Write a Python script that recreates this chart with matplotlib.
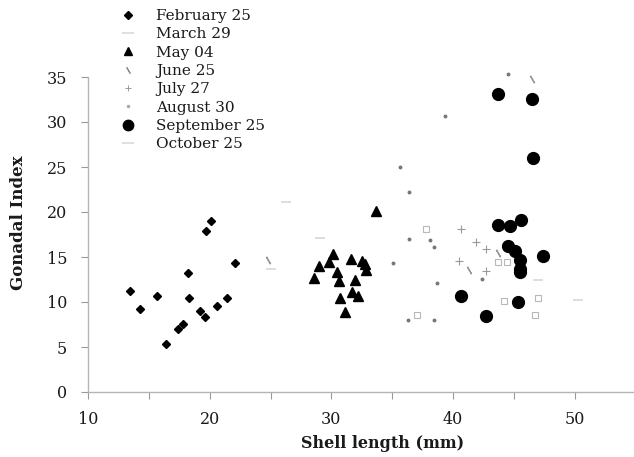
import matplotlib
matplotlib.use("Agg")
import matplotlib.pyplot as plt
from matplotlib.lines import Line2D

# ---- data ----
feb_x = [13.45, 14.3, 15.7, 16.4, 17.4, 17.8, 18.25, 18.3, 19.2, 19.6, 19.7, 20.1, 20.6, 21.4, 22.1]
feb_y = [11.2, 9.2, 10.7, 5.3, 7.0, 7.6, 13.2, 10.5, 9.0, 8.3, 17.9, 19.0, 9.6, 10.5, 14.3]

mar_x = [25.0, 26.3, 29.1, 47.0, 50.3]
mar_y = [13.7, 21.1, 17.1, 12.4, 10.2]

may_x = [33.7, 30.15, 29.8, 31.6, 32.5, 32.8, 32.85, 29.0, 28.6, 30.5, 30.6, 31.9, 31.7, 32.15, 30.7, 31.1]
may_y = [20.1, 15.3, 14.5, 14.8, 14.6, 14.2, 13.6, 14.0, 12.7, 13.3, 12.3, 12.5, 11.1, 10.7, 10.4, 8.9]

jun_x = [24.8, 41.3, 43.7, 46.5]
jun_y = [14.7, 13.6, 15.4, 34.8]

jul_x = [40.65, 41.9, 42.7, 40.5, 42.7]
jul_y = [18.1, 16.7, 15.9, 14.6, 13.4]

aug_x = [44.5, 39.3, 35.6, 36.4, 36.4, 38.1, 38.4, 35.1, 38.7, 36.3, 38.4, 42.4]
aug_y = [35.3, 30.7, 25.0, 22.2, 17.0, 16.9, 16.1, 14.3, 12.1, 8.0, 8.0, 12.6]

sep_x = [43.7, 46.5, 46.6, 43.65, 44.7, 45.6, 47.35, 44.5, 45.1, 45.5, 45.5, 45.5, 40.65, 45.3, 42.7]
sep_y = [33.1, 32.6, 26.0, 18.6, 18.5, 19.1, 15.1, 16.2, 15.7, 14.7, 13.7, 13.3, 10.7, 10.0, 8.4]

oct_x = [47.0, 46.7, 43.7, 44.4, 44.2, 37.8, 37.0]
oct_y = [10.5, 8.6, 14.4, 14.5, 10.1, 18.1, 8.6]

labels = ["February 25", "March 29", "May 04", "June 25", "July 27",
          "August 30", "September 25", "October 25"]

xticks = [10, 20, 30, 40, 50]
yticks = [0, 5, 10, 15, 20, 25, 30, 35]

# ---- figure ----
W, H = 634, 457
fig = plt.figure(figsize=(W / 100, H / 100), dpi=100)
serif = "DejaVu Serif"

x0_px, y0_px = 88, 392
ppx, ppy = 12.17, 9.0
xmax, ymax = 55, 43.5
ax = fig.add_axes([x0_px / W, (H - y0_px) / H, (xmax - 10) * ppx / W, ymax * ppy / H])
ax.set_xlim(10, xmax)
ax.set_ylim(0, ymax)

for s in ("top", "right"):
    ax.spines[s].set_visible(False)
ax.spines["left"].set_bounds(0, 35)
ax.spines["bottom"].set_bounds(10, 55)
for s in ("left", "bottom"):
    ax.spines[s].set_color("#b5b5b5")
    ax.spines[s].set_linewidth(1.0)

ax.set_xticks(xticks)
ax.set_xticks([15, 25, 35, 45], minor=True)
ax.set_yticks(yticks)
ax.tick_params(axis="both", which="both", direction="out", color="#999999", width=0.8)
ax.tick_params(axis="x", which="major", length=5, pad=9, labelsize=11.5)
ax.tick_params(axis="x", which="minor", length=5)
ax.tick_params(axis="y", length=5, pad=10, labelsize=11.5)
for lab in ax.get_xticklabels() + ax.get_yticklabels():
    lab.set_fontfamily(serif)
    lab.set_color("#1a1a1a")

ax.plot(mar_x, mar_y, linestyle="none", marker="_", ms=7, mew=1.2, color="#d8d8d8")
ax.plot(oct_x, oct_y, linestyle="none", marker="s", ms=5, mfc="none", mew=0.8, color="#b8b8b8")
ax.plot(jun_x, jun_y, linestyle="none", marker=(2, 2, 30), ms=6, mew=1.0, color="#9a9a9a")
ax.plot(jul_x, jul_y, linestyle="none", marker="+", ms=6, mew=0.8, color="#9a9a9a")
ax.plot(aug_x, aug_y, linestyle="none", marker="o", ms=1.8, color="#777777")
ax.plot(feb_x, feb_y, linestyle="none", marker="D", ms=4.5, color="black")
ax.plot(may_x, may_y, linestyle="none", marker="^", ms=7.5, color="black")
ax.plot(sep_x, sep_y, linestyle="none", marker="o", ms=8.5, color="black")

handles = [
    Line2D([], [], ls="none", marker="D", ms=4.5, color="black"),
    Line2D([], [], ls="none", marker="_", ms=8, mew=1.5, color="#e0e0e0"),
    Line2D([], [], ls="none", marker="^", ms=6, color="black"),
    Line2D([], [], ls="none", marker=(2, 2, 30), ms=5, mew=0.8, color="#8a8a8a"),
    Line2D([], [], ls="none", marker="+", ms=5, mew=0.7, color="#9a9a9a"),
    Line2D([], [], ls="none", marker="o", ms=1.5, color="#aaaaaa"),
    Line2D([], [], ls="none", marker="o", ms=7.5, color="black"),
    Line2D([], [], ls="none", marker="_", ms=8, mew=1.5, color="#e0e0e0"),
]
leg = fig.legend(handles, labels, loc="upper left",
                 bbox_to_anchor=(120 / W, 1 - 9 / H),
                 frameon=False, prop={"family": serif, "size": 11},
                 handlelength=1.0, handletextpad=1.35, labelspacing=0.285,
                 borderpad=0.0, borderaxespad=0.0)
for t in leg.get_texts():
    t.set_color("#1a1a1a")

fig.text(383 / W, 1 - 444 / H, "Shell length (mm)", ha="center", va="center",
         fontsize=11.5, fontweight="bold", family=serif, color="#1a1a1a")
fig.text(19 / W, 1 - 223 / H, "Gonadal Index", ha="center", va="center",
         rotation=90, fontsize=12, fontweight="bold", family=serif, color="#1a1a1a")

fig.savefig("out.png", dpi=100)
